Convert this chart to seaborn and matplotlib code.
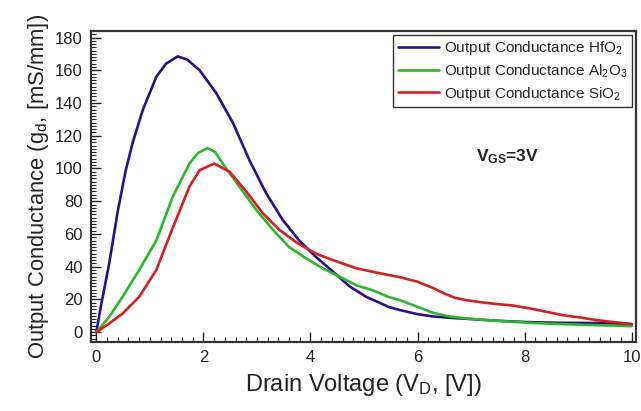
import matplotlib
matplotlib.use("Agg")
import matplotlib.pyplot as plt
import seaborn as sns
import pandas as pd
from matplotlib.ticker import MultipleLocator

# ---- data ----
vd_hfo2 = [0, 0.08, 0.24, 0.4, 0.55, 0.68, 0.87, 1.12, 1.3, 1.52, 1.7, 1.93, 2.24, 2.55,
           2.86, 3.17, 3.48, 3.79, 4.1, 4.42, 4.73, 5.04, 5.29, 5.45, 5.67, 6.0,
           6.29, 6.6, 6.9, 7.47, 8.1, 8.71, 9.34, 9.65, 10.0]
gd_hfo2 = [0, 15, 42, 74, 99, 116, 136, 156, 164, 168.5, 166.5, 160, 146, 128,
           105, 85, 68.6, 56, 46, 37, 28, 21.6, 18, 15.5, 13.5, 11,
           9.6, 8.8, 8.2, 7, 6.1, 5.7, 5.6, 5.3, 4.9]

vd_al2o3 = [0, 0.24, 0.49, 0.8, 1.12, 1.43, 1.74, 1.9, 2.08, 2.22, 2.36, 2.67, 2.98,
            3.3, 3.6, 3.92, 4.23, 4.54, 4.86, 5.17, 5.45, 5.67, 6.0, 6.29, 6.6,
            6.9, 7.47, 8.1, 8.71, 9.34, 10.0]
gd_al2o3 = [0, 9.4, 21.6, 38, 56, 83, 103, 109.5, 112.5, 110, 103, 89, 75,
            62.5, 52, 45, 39, 34, 28.6, 25.5, 21.6, 19.6, 15.5, 11.8, 9.6,
            8.4, 7, 5.7, 4.9, 4.3, 3.7]

vd_sio2 = [0, 0.24, 0.49, 0.8, 1.12, 1.43, 1.74, 1.93, 2.2, 2.49, 2.8, 3.11, 3.42,
           3.73, 4.1, 4.42, 4.86, 5.29, 5.67, 6.0, 6.29, 6.5, 6.7, 6.9, 7.16, 7.47,
           7.78, 8.1, 8.4, 8.71, 9.03, 9.34, 9.65, 10.0]
gd_sio2 = [0, 5.3, 11.4, 21.6, 38, 64, 89, 99, 103, 98, 86, 72.6, 62.5,
           55, 48, 44, 39, 36, 33.6, 30.8, 27, 23.6, 21.0, 19.6, 18.4, 17.2,
           16.3, 14.5, 12.5, 10.4, 9, 7.4, 6.2, 5]

labels = ["Output Conductance HfO$_2$",
          "Output Conductance Al$_2$O$_3$",
          "Output Conductance SiO$_2$"]
colors = ["#2c1184", "#2fb52f", "#d42020"]

sns.set_style("ticks")
plt.rcParams["font.family"] = ["Liberation Sans", "DejaVu Sans"]
plt.rcParams["mathtext.default"] = "regular"

fig = plt.figure(figsize=(6.41, 4.11), dpi=100)
ax = fig.add_axes([91 / 641, 1 - 342 / 411, (636 - 91) / 641, (342 - 31) / 411])

series = [(vd_hfo2, gd_hfo2), (vd_al2o3, gd_al2o3), (vd_sio2, gd_sio2)]
for (xs, ys), lab, c in zip(series, labels, colors):
    df = pd.DataFrame({"x": xs, "y": ys})
    sns.lineplot(data=df, x="x", y="y", ax=ax, color=c, lw=1.9, label=lab,
                 estimator=None, sort=False)

ax.set_xlim(-0.1, 10.08)
ax.set_ylim(-6, 184)
ax.xaxis.set_major_locator(MultipleLocator(2))
ax.xaxis.set_minor_locator(MultipleLocator(0.2))
ax.yaxis.set_major_locator(MultipleLocator(20))
ax.yaxis.set_minor_locator(MultipleLocator(2))
ax.tick_params(which="major", direction="in", length=7, width=1, labelsize=12,
               colors="#222222", pad=6)
ax.tick_params(which="minor", direction="in", length=3.5, width=0.8, colors="#222222")
for s in ax.spines.values():
    s.set_visible(True)
    s.set_linewidth(1.6)
    s.set_color("#333333")

ax.set_xlabel("Drain Voltage (V$_D$, [V])", fontsize=17, color="#222222", labelpad=5)
ax.set_ylabel("Output Conductance (g$_d$, [mS/mm])", fontsize=15.8, color="#222222",
              labelpad=3)

leg = ax.legend(loc="upper right", fontsize=11, frameon=True, fancybox=False,
                borderaxespad=0.25, handlelength=2.7, handletextpad=0.33,
                labelspacing=0.3, borderpad=0.3)
leg.get_frame().set_edgecolor("black")
leg.get_frame().set_linewidth(1.0)
for line in leg.get_lines():
    line.set_linewidth(1.9)

ax.text(0.765, 0.595, "V$_{GS}$=3V", transform=ax.transAxes, fontsize=12.5,
        fontweight="bold", ha="center", va="center", color="#222222")

fig.savefig("out.png", dpi=100)
